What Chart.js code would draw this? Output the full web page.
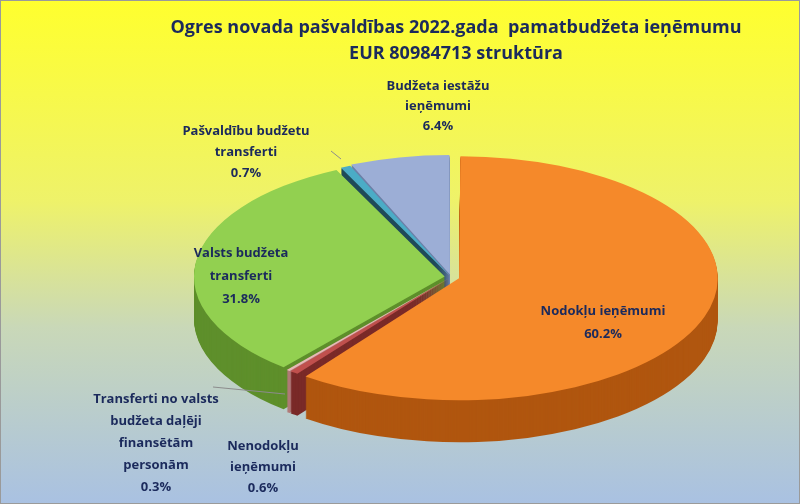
<!DOCTYPE html>
<html><head><meta charset="utf-8">
<script src="https://cdn.jsdelivr.net/npm/chart.js@4"></script>
<style>
html,body{margin:0;padding:0;}
body{width:800px;height:504px;background:linear-gradient(to bottom,#ffff2e 0%,#eef26a 40%,#c9d8b8 65%,#a9c1e2 100%);}
#wrap{position:absolute;left:0;top:0;width:798px;height:502px;border:1px solid #9a9a9a;}
</style></head><body>
<div id="wrap"><canvas id="c" width="798" height="502"></canvas></div>
<script>
const categories=["Nodokļu ieņēmumi","Nenodokļu ieņēmumi","Transferti no valsts budžeta daļēji finansētām personām","Valsts budžeta transferti","Pašvaldību budžetu transferti","Budžeta iestāžu ieņēmumi"];
const values=[60.2,0.6,0.3,31.8,0.7,6.4];
const topColors=["#f5892a","#c0504d","#e8b9b7","#92d050","#4bacc6","#9caed6"];
const sideColors=["#b0560f","#7a2a28","#b07a78","#5e8f2b","#1f4a58","#6c80a8"];
const offsets=[16,6,6,12,6,10];
const SX=2.12, DEPTH=42;
function xf(ctx,ch){const a=ch.chartArea;const cx=(a.left+a.right)/2;ctx.translate(cx,0);ctx.scale(SX,1);ctx.translate(-cx,0);}
const pie3d={id:'pie3d',
 beforeDatasetsDraw(ch){const ctx=ch.ctx;const els=ch.getDatasetMeta(0).data;
  ctx.save();xf(ctx,ch);
  for(let d=DEPTH;d>=1;d--){
   els.forEach((el,i)=>{const f=Object.create(el);f.options=Object.assign({},el.options,{backgroundColor:sideColors[i],borderWidth:0});
    ctx.save();ctx.translate(0,d);f.draw(ctx);ctx.restore();});
  }
  ctx.restore();
  ctx.save();xf(ctx,ch);},
 afterDatasetsDraw(ch){const ctx=ch.ctx;ctx.restore();
  ctx.save();ctx.fillStyle="#1b2a5c";ctx.textAlign="center";ctx.textBaseline="middle";
  ctx.font="bold 18px 'Open Sans'";
  ctx.fillText("Ogres novada pašvaldības 2022.gada  pamatbudžeta ieņēmumu",455,27);
  ctx.fillText("EUR 80984713 struktūra",455,53);
  ctx.font="bold 13px 'Open Sans'";
  const L=[[["Nodokļu ieņēmumi",values[0]+"%"],602,310,23],
   [["Valsts budžeta","transferti",values[3]+"%"],240,252,23],
   [["Pašvaldību budžetu","transferti",values[4]+"%"],245,130,21],
   [["Budžeta iestāžu","ieņēmumi",values[5]+"%"],437,85,20],
   [["Transferti no valsts","budžeta daļēji","finansētām","personām",values[2]+"%"],155,398,22],
   [["Nenodokļu","ieņēmumi",values[1]+"%"],262,445,21]];
  L.forEach(([t,x,y,h])=>t.forEach((s,k)=>ctx.fillText(s,x,y+k*h)));
  ctx.strokeStyle="#8c8c8c";ctx.lineWidth=1;
  ctx.beginPath();ctx.moveTo(212,386);ctx.lineTo(284,393);ctx.moveTo(330,150);ctx.lineTo(340,158);ctx.stroke();
  ctx.restore();}
};
new Chart(document.getElementById('c'),{type:'pie',
 data:{labels:categories,datasets:[{data:values,backgroundColor:topColors,borderWidth:0,offset:offsets}]},
 options:{responsive:false,animation:false,layout:{padding:{left:320,right:218,top:150,bottom:100}},
  plugins:{legend:{display:false},tooltip:{enabled:false},title:{display:false}}},
 plugins:[pie3d]});
</script></body></html>
